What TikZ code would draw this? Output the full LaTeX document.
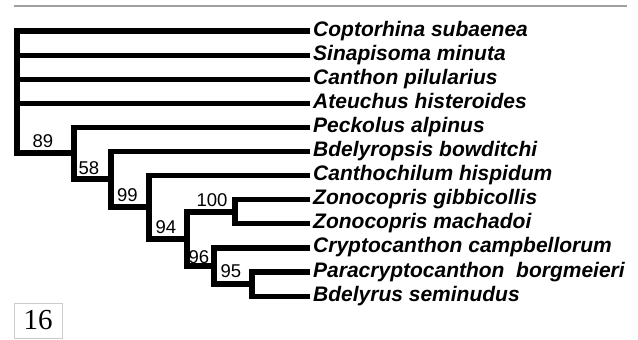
\documentclass[tikz,border=0pt]{standalone}
\usepackage{fontspec}
\setmainfont{Liberation Sans}
\newfontfamily\platefont{Liberation Serif}

\begin{document}
\begin{tikzpicture}[
    x=1pt, y=-1pt,
    branch/.style={line width=5.2pt, line join=miter},
    taxon/.style={anchor=west, inner xsep=3pt, inner ysep=0pt,
                  text height=14pt, text depth=4pt,
                  font=\fontsize{21}{21}\selectfont\bfseries\itshape},
    support/.style={anchor=base, inner sep=0pt,
                    font=\fontsize{18.5}{18.5}\selectfont}
  ]
  \useasboundingbox (0,0) rectangle (638,340);
  \draw[gray!75, line width=1.5pt] (14,6) -- (627,6);

  % Taxa
  \foreach \name [count=\i] in {Coptorhina subaenea, Sinapisoma minuta,
      Canthon pilularius, Ateuchus histeroides, Peckolus alpinus,
      Bdelyropsis bowditchi, Canthochilum hispidum, Zonocopris gibbicollis,
      Zonocopris machadoi, Cryptocanthon campbellorum,
      Paracryptocanthon\ \ borgmeieri, Bdelyrus seminudus} {
    \pgfmathsetmacro{\rowy}{31 + 24.1*(\i-1)}
    \node[taxon] (t\i) at (310, \rowy) {\name};
  }

  % Internal nodes
  \coordinate (root) at (17, 92);
  \coordinate (n89) at (74, 153);
  \coordinate (n58) at (111, 179);
  \coordinate (n99) at (149, 207);
  \coordinate (n94) at (187, 239);
  \coordinate (n100) at (235, 212);
  \coordinate (n96) at (214, 266);
  \coordinate (n95) at (252, 284);

  % Branches
  \foreach \a/\b in {root/t1, root/t2, root/t3, root/t4, root/n89,
      n89/t5, n89/n58, n58/t6, n58/n99, n99/t7, n99/n94,
      n94/n100, n94/n96, n100/t8, n100/t9,
      n96/t10, n96/n95, n95/t11, n95/t12}
    \draw[branch] (\a) |- (\b);

  % Bootstrap values
  \node[support] (b89) at (43, 147) {89};
  \node[support] (b58) at (89, 174) {58};
  \node[support] (b99) at (127.5, 201) {99};
  \node[support] (b94) at (166, 233) {94};
  \node[support] (b100) at (212, 206) {100};
  \node[support] (b96) at (199, 263) {96};
  \node[support] (b95) at (231, 277) {95};

  % Figure number
  \node[draw=gray!40, line width=0.8pt, minimum width=48pt,
        minimum height=35pt, font=\platefont\fontsize{29}{29}\selectfont]
    (fig) at (38, 320.5) {16};
\end{tikzpicture}
\end{document}
